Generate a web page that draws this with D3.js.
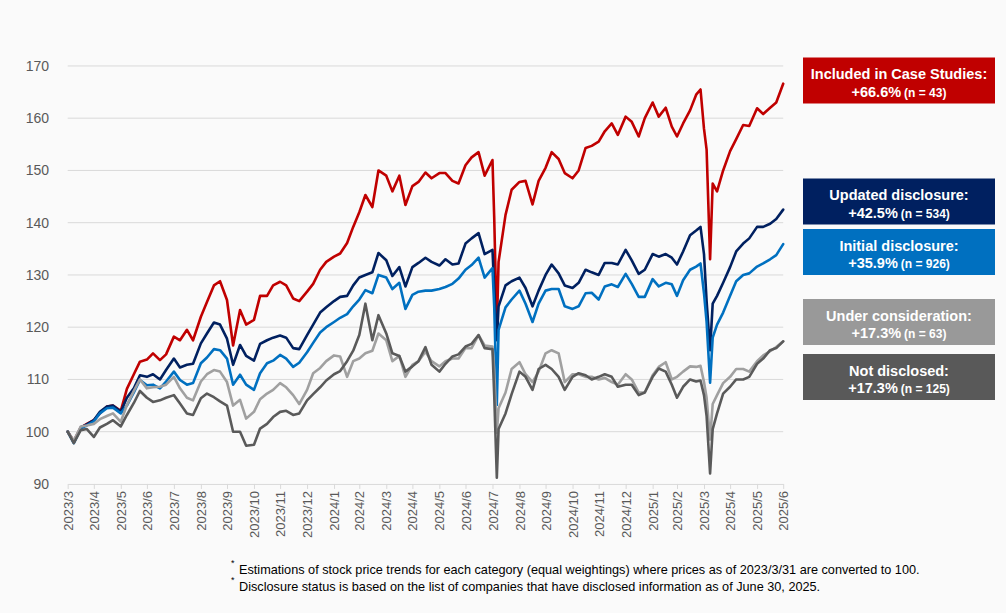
<!DOCTYPE html>
<html><head><meta charset="utf-8">
<script src="https://cdn.jsdelivr.net/npm/d3@7"></script>
<style>
html,body{margin:0;padding:0;background:#fafafa;}
svg{display:block;font-family:"Liberation Sans",Arial,sans-serif;}
</style></head>
<body><svg id="chart" width="1006" height="613"></svg>
<script>
// ---------- DATA ----------
const dates = [
"2023-03-31",
"2023-04-07","2023-04-15","2023-04-22","2023-04-30",
"2023-05-07","2023-05-15","2023-05-22","2023-05-31",
"2023-06-07","2023-06-15","2023-06-22","2023-06-30",
"2023-07-07","2023-07-15","2023-07-22","2023-07-31",
"2023-08-07","2023-08-15","2023-08-22","2023-08-31",
"2023-09-07","2023-09-15","2023-09-22","2023-09-30",
"2023-10-07","2023-10-15","2023-10-22","2023-10-31",
"2023-11-07","2023-11-15","2023-11-22","2023-11-30",
"2023-12-07","2023-12-15","2023-12-22","2023-12-31",
"2024-01-07","2024-01-15","2024-01-22","2024-01-31",
"2024-02-07","2024-02-15","2024-02-22","2024-02-29",
"2024-03-07","2024-03-15","2024-03-22","2024-03-31",
"2024-04-07","2024-04-15","2024-04-22","2024-04-30",
"2024-05-07","2024-05-15","2024-05-22","2024-05-31",
"2024-06-07","2024-06-15","2024-06-22","2024-06-30",
"2024-07-07","2024-07-15","2024-07-22","2024-07-31",
"2024-08-02","2024-08-05","2024-08-07","2024-08-15","2024-08-22","2024-08-31",
"2024-09-07","2024-09-15","2024-09-22","2024-09-30",
"2024-10-07","2024-10-15","2024-10-22","2024-10-31",
"2024-11-07","2024-11-15","2024-11-22","2024-11-30",
"2024-12-07","2024-12-15","2024-12-22","2024-12-31",
"2025-01-07","2025-01-15","2025-01-22","2025-01-31",
"2025-02-07","2025-02-15","2025-02-22","2025-02-28",
"2025-03-07","2025-03-15","2025-03-22","2025-03-27","2025-03-31",
"2025-04-03","2025-04-07","2025-04-10","2025-04-15","2025-04-22","2025-04-30",
"2025-05-07","2025-05-15","2025-05-22","2025-05-31",
"2025-06-07","2025-06-15","2025-06-22","2025-06-30"
];

const includedInCaseStudies = [
100,
98.2,100.8,101.5,102.2,
103.5,104.8,105.0,104.0,
108.2,111.0,113.4,113.8,
115.0,113.7,114.8,118.2,
117.5,119.5,117.5,122.0,
124.8,128.0,128.8,125.2,
116.5,123.3,120.5,121.4,
126.0,126.0,128.0,128.7,
128.0,125.5,125.0,126.8,
128.3,131.0,132.5,133.5,
134.1,136.1,139.2,142.0,
145.3,143.0,150.0,149.0,
146.0,149.0,143.4,147.0,
147.8,149.6,148.5,149.5,
149.5,148.0,147.5,151.0,
152.5,153.5,149.0,152.0,
141.0,119.5,132.5,141.5,146.3,147.8,
148.0,143.5,148.0,150.5,
153.5,152.2,149.5,148.5,
150.0,154.3,154.7,155.5,
157.5,159.0,156.8,160.3,
159.3,156.5,160.0,163.0,
160.3,162.0,158.4,156.5,
159.0,161.5,164.5,165.5,158.0,
154.0,133.0,147.5,146.0,150.0,153.7,
156.0,158.7,158.5,161.9,
160.8,162.0,163.0,166.6
];

const updatedDisclosure = [
100,
98.0,100.8,101.4,102.2,
103.8,104.8,105.0,103.8,
106.5,108.3,110.8,110.5,
111.0,110.0,111.8,114.0,
112.3,112.8,113.0,116.9,
118.8,120.9,120.5,117.8,
112.8,116.6,114.5,113.6,
116.8,117.5,118.0,118.4,
118.0,116.0,115.8,118.5,
120.5,122.8,123.8,125.0,
125.8,126.0,128.0,129.5,
130.0,130.5,134.2,132.8,
129.8,131.5,127.8,131.5,
132.3,133.3,132.5,131.8,
133.0,132.0,132.2,136.0,
137.0,138.0,134.0,134.8,
127.5,117.5,124.0,128.0,128.8,129.5,
127.5,124.0,127.0,130.0,
132.0,130.3,128.0,127.5,
128.5,131.0,130.5,130.0,
132.3,132.3,132.0,134.8,
132.8,130.2,131.0,134.0,
133.5,134.0,133.3,132.0,
134.5,137.6,138.5,139.2,134.0,
125.0,115.6,124.5,126.0,128.5,131.5,
134.5,136.0,137.0,139.2,
139.2,139.8,140.7,142.5
];

const initialDisclosure = [
100,
97.8,100.6,101.2,102.0,
103.5,104.5,104.6,103.5,
105.0,107.5,109.9,108.9,
109.0,108.3,109.6,111.5,
109.9,109.0,109.3,113.1,
114.2,115.8,115.6,114.0,
109.0,110.9,109.0,108.0,
111.2,113.1,113.6,114.7,
114.0,112.4,113.2,115.2,
117.0,119.0,120.0,121.0,
121.8,122.5,124.0,125.3,
127.1,126.5,130.0,129.5,
127.3,128.5,123.5,126.2,
126.8,127.0,127.0,127.3,
127.7,128.3,129.3,131.0,
131.9,133.3,129.5,131.3,
124.0,105.1,119.5,123.8,125.3,127.0,
124.5,121.0,124.5,127.0,
127.3,127.3,124.0,123.5,
124.0,126.5,126.6,125.3,
127.8,128.2,127.7,130.2,
128.3,125.8,125.8,129.2,
127.8,128.5,128.2,126.0,
129.0,131.0,131.6,132.2,126.5,
121.0,109.4,118.0,120.5,122.8,126.0,
128.8,130.0,130.3,131.6,
132.2,133.0,133.8,135.9
];

const underConsideration = [
100,
98.3,101.0,101.2,101.5,
102.4,103.0,103.5,101.9,
105.1,107.8,110.0,108.3,
108.5,108.6,109.0,110.5,
108.3,106.5,106.0,109.6,
111.0,111.8,111.5,109.5,
105.0,106.1,102.5,103.8,
106.2,107.3,108.0,109.3,
108.5,107.0,105.3,108.0,
111.2,112.2,113.5,114.6,
114.4,110.5,113.5,114.0,
115.0,115.5,118.8,117.5,
113.5,114.5,110.5,112.8,
113.5,115.3,113.5,112.5,
113.5,114.0,114.0,116.0,
116.0,118.5,116.5,116.3,
112.0,99.8,104.5,107.5,112.0,113.3,
111.0,109.5,111.5,115.0,
115.6,115.0,109.5,111.0,
111.0,110.5,110.5,110.0,
110.3,109.5,109.0,111.0,
110.0,107.5,107.5,110.8,
112.4,113.3,110.0,110.5,
111.5,112.5,112.4,112.6,109.5,
106.5,98.5,105.3,107.0,109.3,110.5,
112.0,112.0,111.5,113.5,
114.6,115.4,116.2,117.3
];

const notDisclosed = [
100,
97.8,100.3,100.5,99.0,
100.8,101.5,102.2,101.0,
103.2,105.5,107.8,106.5,
105.7,106.0,106.5,107.0,
105.4,103.5,103.2,106.4,
107.3,106.6,105.8,105.0,
100.0,100.0,97.3,97.5,
100.6,101.5,102.8,103.8,
104.0,103.2,103.5,106.0,
107.2,108.5,109.8,111.0,
111.6,113.5,115.5,118.5,
124.5,117.5,122.3,118.8,
115.0,114.5,111.5,112.5,
113.5,116.2,112.8,111.5,
113.0,114.4,114.8,116.3,
116.8,118.5,116.0,115.8,
107.0,91.2,100.5,103.5,107.2,111.5,
110.5,108.0,112.0,112.8,
112.0,110.5,108.0,110.5,
111.2,110.8,110.0,110.5,
111.0,110.5,108.6,109.0,
109.0,107.0,107.5,110.5,
112.1,111.5,109.0,106.5,
108.6,110.0,109.6,109.8,107.0,
103.0,92.0,100.5,103.5,107.3,108.6,
110.0,110.0,110.5,113.0,
114.0,115.6,116.0,117.3
];

const tickLabels = ["2023/3","2023/4","2023/5","2023/6","2023/7","2023/8","2023/9","2023/10","2023/11","2023/12",
"2024/1","2024/2","2024/3","2024/4","2024/5","2024/6","2024/7","2024/8","2024/9","2024/10","2024/11","2024/12",
"2025/1","2025/2","2025/3","2025/4","2025/5","2025/6"];
const yTickValues = [90,100,110,120,130,140,150,160,170];

const seriesNames = ["Included in Case Studies:","Updated disclosure:","Initial disclosure:","Under consideration:","Not disclosed:"];
const seriesChange = ["+66.6%","+42.5%","+35.9%","+17.3%","+17.3%"];
const seriesCount = ["(n = 43)","(n = 534)","(n = 926)","(n = 63)","(n = 125)"];
const seriesValues = [includedInCaseStudies, updatedDisclosure, initialDisclosure, underConsideration, notDisclosed];

const footnotes = [
"Estimations of stock price trends for each category (equal weightings) where prices as of 2023/3/31 are converted to 100.",
"Disclosure status is based on the list of companies that have disclosed information as of June 30, 2025."
];

// ---------- STYLE ----------
const lineColors = ["#C00000","#002060","#0070C0","#A0A0A0","#5A5A5A"];
const boxColors  = ["#C00000","#002060","#0070C0","#999999","#595959"];
const boxTops    = [57.5, 178.5, 229, 299, 354];

// ---------- DRAW ----------
const svg = d3.select("#chart");
const parse = d3.timeParse("%Y-%m-%d");
const parsedDates = dates.map(parse);
const tickDates = tickLabels.map(s => { const [yy, mm] = s.split("/").map(Number); return new Date(yy, mm, 0); });

const x = d3.scaleTime().domain([parse("2023-03-31"), parse("2025-06-30")]).range([67.7, 783.2]);
const y = d3.scaleLinear().domain([90, 170]).range([483.95, 65.95]);

svg.append("rect").attr("width",1006).attr("height",613).attr("fill","#fafafa");

// gridlines
svg.append("g").selectAll("line").data(yTickValues.filter(v => v > 90)).join("line")
  .attr("x1", x.range()[0]).attr("x2", x.range()[1])
  .attr("y1", d => y(d)).attr("y2", d => y(d))
  .attr("stroke", "#d9d9d9").attr("stroke-width", 1);

// y labels
svg.append("g").selectAll("text").data(yTickValues).join("text")
  .attr("x", 49).attr("y", d => y(d)).attr("dy", "0.35em")
  .attr("text-anchor", "end").attr("font-size", 14).attr("fill", "#595959")
  .text(d => d);

// x axis
const xAxis = d3.axisBottom(x).tickValues(tickDates).tickFormat((d, i) => tickLabels[i]).tickSize(5).tickSizeOuter(0);
const gx = svg.append("g").attr("transform", `translate(0,${y(90)})`).call(xAxis);
gx.select(".domain").attr("stroke", "#d9d9d9");
gx.selectAll(".tick line").attr("stroke", "#d9d9d9");
gx.selectAll(".tick text")
  .attr("transform", "rotate(-90)")
  .attr("x", -7).attr("y", 0).attr("dy", "0.35em")
  .attr("text-anchor", "end")
  .attr("font-size", 13).attr("fill", "#595959")
  .attr("font-family", "'Liberation Sans', Arial, sans-serif");

// lines
const line = d3.line().x((d, i) => x(parsedDates[i])).y(d => y(d));
svg.append("g").selectAll("path").data(seriesValues).join("path")
  .attr("d", d => line(d))
  .attr("fill", "none")
  .attr("stroke", (d, i) => lineColors[i])
  .attr("stroke-width", 2.6)
  .attr("stroke-linejoin", "round")
  .attr("stroke-linecap", "round");

// legend boxes
const lg = svg.append("g").selectAll("g").data(seriesNames).join("g")
  .attr("transform", (d, i) => `translate(803,${boxTops[i]})`);
lg.append("rect").attr("width", 192).attr("height", 46).attr("fill", (d, i) => boxColors[i]);
lg.append("text").attr("x", 96).attr("y", 21.5).attr("text-anchor", "middle")
  .attr("fill", "#fff").attr("font-weight", "bold").attr("font-size", 14.5)
  .text(d => d);
const t2 = lg.append("text").attr("x", 96).attr("y", 39).attr("text-anchor", "middle")
  .attr("fill", "#fff").attr("font-weight", "bold");
t2.append("tspan").attr("font-size", 14.5).text((d, i) => seriesChange[i]);
t2.append("tspan").attr("font-size", 12).attr("dx", 3).text((d, i) => seriesCount[i]);

// footnotes
const fn = svg.append("g").selectAll("g").data(footnotes).join("g");
fn.append("text").attr("x", 231).attr("y", (d, i) => 566 + i * 17)
  .attr("font-size", 9).attr("fill", "#000").text("*");
fn.append("text").attr("x", 239).attr("y", (d, i) => 573.5 + i * 17)
  .attr("font-size", 12.7).attr("fill", "#000").text(d => d);
</script>
</body></html>
